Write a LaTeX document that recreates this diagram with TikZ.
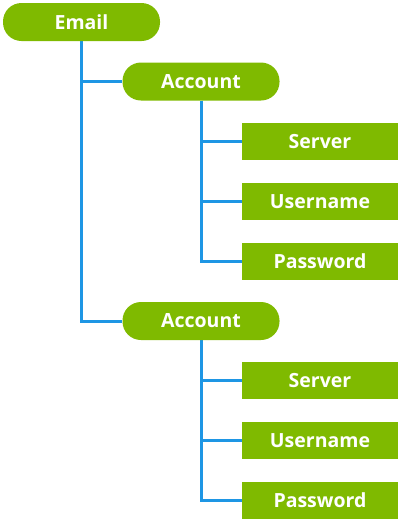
\documentclass[tikz,border=0pt]{standalone}
\usepackage{fontspec}
\setmainfont{Open Sans}
\usetikzlibrary{backgrounds}
\definecolor{leaf}{RGB}{127,186,0}
\definecolor{wire}{RGB}{30,150,228}
\tikzset{
  pill/.style={fill=leaf, rounded corners=18.5pt, minimum width=157pt, minimum height=38pt, inner sep=0pt, text=white, font=\fontsize{19.5}{21}\selectfont\bfseries},
  leafbox/.style={fill=leaf, minimum width=156pt, minimum height=37pt, inner sep=0pt, text=white, font=\fontsize{19.5}{21}\selectfont\bfseries},
  link/.style={draw=wire, line width=3pt}
}
\begin{document}
\begin{tikzpicture}[x=1pt,y=-1pt]
\useasboundingbox (0,0) rectangle (400,520);
\node[pill] (email) at (81.5,22) {Email};
\node[pill] (acc1) at (201,81.5) {Account};
\node[leafbox] (srv1) at (320,141.5) {Server};
\node[leafbox] (usr1) at (320,201.5) {Username};
\node[leafbox] (pwd1) at (320,261) {Password};
\node[pill] (acc2) at (201,321) {Account};
\node[leafbox] (srv2) at (320,380.5) {Server};
\node[leafbox] (usr2) at (320,440.5) {Username};
\node[leafbox] (pwd2) at (320,500.5) {Password};
\begin{scope}[on background layer]
\draw[link] (email.south) |- (acc1.west);
\draw[link] (email.south) |- (acc2.west);
\draw[link] (acc1.south) |- (srv1.west);
\draw[link] (acc1.south) |- (usr1.west);
\draw[link] (acc1.south) |- (pwd1.west);
\draw[link] (acc2.south) |- (srv2.west);
\draw[link] (acc2.south) |- (usr2.west);
\draw[link] (acc2.south) |- (pwd2.west);
\end{scope}
\end{tikzpicture}
\end{document}
